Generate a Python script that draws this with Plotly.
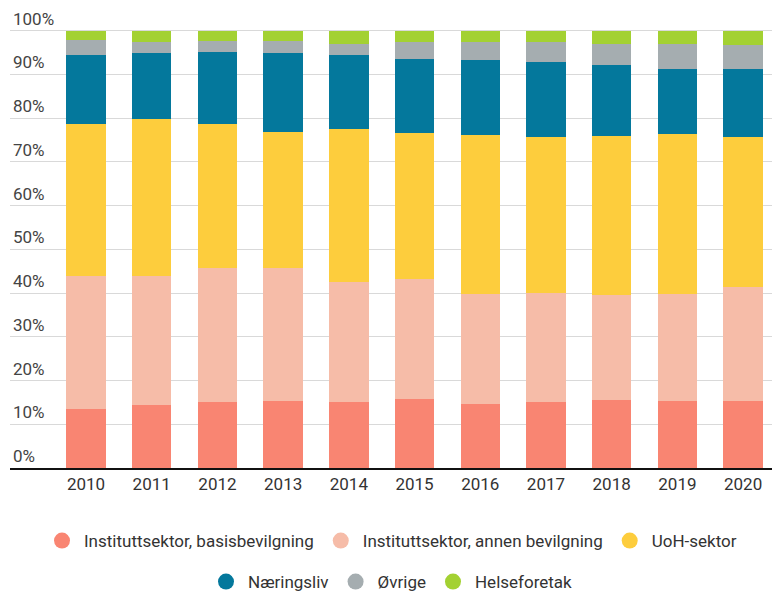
import plotly.graph_objects as go

years = ["2010", "2011", "2012", "2013", "2014", "2015", "2016", "2017", "2018", "2019", "2020"]
basis = [13.5, 14.4, 15.0, 15.4, 15.0, 15.7, 14.7, 15.0, 15.6, 15.4, 15.4]
annen = [30.4, 29.5, 30.8, 30.4, 27.6, 27.5, 25.1, 25.0, 23.9, 24.4, 25.9]
uoh = [34.8, 35.9, 32.9, 31.1, 34.9, 33.5, 36.4, 35.7, 36.5, 36.5, 34.4]
naering = [15.8, 15.1, 16.4, 17.9, 16.9, 16.8, 17.0, 17.2, 16.1, 15.0, 15.6]
ovrige = [3.3, 2.6, 2.6, 2.8, 2.6, 3.9, 4.1, 4.4, 4.9, 5.7, 5.4]
helse = [2.2, 2.5, 2.3, 2.4, 3.0, 2.6, 2.7, 2.7, 3.0, 3.0, 3.3]
y_ticks = [0, 10, 20, 30, 40, 50, 60, 70, 80, 90, 100]
y_labels = ["0%", "10%", "20%", "30%", "40%", "50%", "60%", "70%", "80%", "90%", "100%"]

series = [
    ("Instituttsektor, basisbevilgning", basis, "#f98572", "legend"),
    ("Instituttsektor, annen bevilgning", annen, "#f6bca8", "legend"),
    ("UoH-sektor", uoh, "#fdcd3d", "legend"),
    ("Næringsliv", naering, "#04789c", "legend2"),
    ("Øvrige", ovrige, "#a5adb0", "legend2"),
    ("Helseforetak", helse, "#a3d132", "legend2"),
]

fig = go.Figure()
for name, vals, color, lg in series:
    fig.add_trace(go.Bar(x=years, y=vals, name=name, marker_color=color,
                         marker_line_width=0, showlegend=False))
for name, vals, color, lg in series:
    fig.add_trace(go.Scatter(x=[None], y=[None], mode="markers", name=name,
                             marker=dict(symbol="circle", size=16, color=color),
                             legend=lg, showlegend=True))

fs = 17
font = dict(family="Roboto, sans-serif", size=fs, color="#333333")
fig.update_layout(
    barmode="stack",
    barnorm="percent",
    bargap=0.4,
    width=772, height=595,
    margin=dict(l=10, r=0, t=0, b=127, autoexpand=False),
    plot_bgcolor="white", paper_bgcolor="white",
    font=font,
    xaxis=dict(type="category", range=[-1.157, 10.44], showline=True, linecolor="#111111",
               linewidth=2, showgrid=False, ticks="", automargin=False,
               tickfont=dict(size=fs, color="#333333")),
    yaxis=dict(range=[0, 107], tickmode="array", tickvals=y_ticks, ticktext=y_labels,
               showgrid=True, gridcolor="#d9d9d9", automargin=False,
               gridwidth=1, zeroline=False, showline=False, ticklabelposition="inside top",
               tickfont=dict(size=fs, color="#444444")),
    legend=dict(orientation="h", x=0.5, xanchor="center", y=-0.156, yanchor="middle",
                traceorder="normal", font=dict(size=fs, color="#333333"), itemwidth=34,
                bgcolor="rgba(0,0,0,0)"),
    legend2=dict(orientation="h", x=0.5, xanchor="center", y=-0.2436, yanchor="middle",
                 traceorder="normal", font=dict(size=fs, color="#333333"), itemwidth=34,
                 bgcolor="rgba(0,0,0,0)"),
)

fig.write_html("out.html", config={"displayModeBar": False},
               post_script="document.body.style.margin='0px';document.body.style.overflow='hidden';")
